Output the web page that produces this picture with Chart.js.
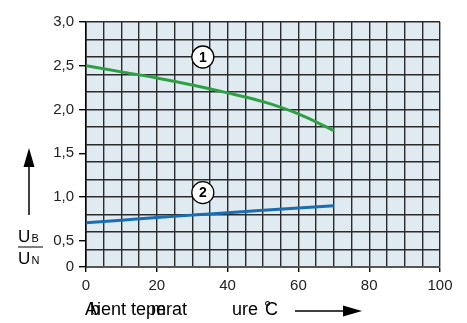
<!DOCTYPE html>
<html>
<head>
<meta charset="utf-8">
<script src="https://cdn.jsdelivr.net/npm/chart.js@4"></script>
<style>
  html, body { margin:0; padding:0; background:#fff; }
  #wrap { width:467px; height:323px; position:relative; }
</style>
</head>
<body>
<div id="wrap"><canvas id="chart" width="467" height="323"></canvas></div>
<script>
// values
const tempC  = [0, 10, 20, 30, 40, 50, 60, 70];
const curve1 = [2.50, 2.43, 2.36, 2.28, 2.19, 2.09, 1.95, 1.76];
const curve2 = [0.705, 0.735, 0.765, 0.793, 0.82, 0.848, 0.875, 0.90];

const xGridValues  = [0,5,10,15,20,25,30,35,40,45,50,55,60,65,70,75,80,85,90,95,100];
const xLabelValues = [0, 20, 40, 60, 80, 100];

// broken axis: lowest grid line (0.2) is labelled "0"
const yGridValues  = [0.2,0.4,0.6,0.8,1.0,1.2,1.4,1.6,1.8,2.0,2.2,2.4,2.6,2.8,3.0];
const yLabelValues = [0.2, 0.5, 1.0, 1.5, 2.0, 2.5, 3.0];
const yLabels      = ["0", "0,5", "1,0", "1,5", "2,0", "2,5", "3,0"];

const markerNames = ["1", "2"];
const markerX = [33, 33];
const markerY = [2.6, 1.05];

const near = (a, b) => Math.abs(a - b) < 1e-6;
const isYGrid = v => yGridValues.some(g => near(g, v));
const yLabelIdx = v => yLabelValues.findIndex(g => near(g, v));

const FONT = "'Liberation Sans', Arial, sans-serif";
const GRID = "#2b2b2b";

const decor = {
  id: "decor",
  beforeDraw(chart) {
    const { ctx, chartArea: a } = chart;
    ctx.save();
    ctx.fillStyle = "#dfeaf1";
    ctx.fillRect(a.left, a.top, a.right - a.left, a.bottom - a.top);
    ctx.restore();
  },
  afterDraw(chart) {
    const { ctx, scales: { x, y } } = chart;
    ctx.save();

    // circled curve numbers
    markerNames.forEach((n, i) => {
      const px = x.getPixelForValue(markerX[i]);
      const py = y.getPixelForValue(markerY[i]);
      ctx.beginPath();
      ctx.arc(px, py, 11, 0, Math.PI * 2);
      ctx.fillStyle = "#fff";
      ctx.fill();
      ctx.lineWidth = 1.3;
      ctx.strokeStyle = "#000";
      ctx.stroke();
      ctx.fillStyle = "#000";
      ctx.font = "bold 14px " + FONT;
      ctx.textAlign = "center";
      ctx.textBaseline = "middle";
      ctx.fillText(n, px, py + 1);
    });

    // y title: arrow + U_B / U_N
    ctx.strokeStyle = "#000";
    ctx.fillStyle = "#000";
    ctx.lineWidth = 1.5;
    ctx.beginPath();
    ctx.moveTo(29, 215); ctx.lineTo(29, 164);
    ctx.stroke();
    ctx.beginPath();
    ctx.moveTo(29, 148); ctx.lineTo(23.5, 167); ctx.lineTo(34.5, 167);
    ctx.closePath(); ctx.fill();

    ctx.textAlign = "left";
    ctx.textBaseline = "alphabetic";
    ctx.font = "17px " + FONT;
    ctx.fillText("U", 18, 242);
    ctx.fillText("U", 18, 264);
    ctx.font = "11px " + FONT;
    ctx.fillText("B", 31.5, 242);
    ctx.fillText("N", 31.5, 264);
    ctx.lineWidth = 1;
    ctx.beginPath();
    ctx.moveTo(18, 247); ctx.lineTo(43, 247);
    ctx.stroke();

    // x title (pieces overlap as in the source)
    ctx.font = "18px " + FONT;
    ctx.fillText("A", 85, 315);
    ctx.fillText("b", 90, 315);
    ctx.fillText("ient teperat", 97, 315);
    ctx.fillText("m", 151, 315);
    ctx.fillText("ure", 232, 315);
    ctx.fillText("C", 265, 315);
    ctx.fillText("°", 264, 314);

    // x arrow
    ctx.lineWidth = 1.5;
    ctx.beginPath();
    ctx.moveTo(295, 311); ctx.lineTo(345, 311);
    ctx.stroke();
    ctx.beginPath();
    ctx.moveTo(362, 311); ctx.lineTo(343, 305.5); ctx.lineTo(343, 316.5);
    ctx.closePath(); ctx.fill();

    ctx.restore();
  }
};

new Chart(document.getElementById("chart"), {
  type: "line",
  data: {
    datasets: [
      { data: tempC.map((t, i) => ({ x: t, y: curve1[i] })), borderColor: "#2ea043", borderWidth: 3,
        pointRadius: 0, cubicInterpolationMode: "monotone" },
      { data: tempC.map((t, i) => ({ x: t, y: curve2[i] })), borderColor: "#1a6db3", borderWidth: 3,
        pointRadius: 0, cubicInterpolationMode: "monotone" }
    ]
  },
  options: {
    responsive: false,
    animation: false,
    events: [],
    layout: { padding: { left: 0, right: 27, top: 22, bottom: 0 } },
    plugins: { legend: { display: false }, tooltip: { enabled: false } },
    scales: {
      x: {
        type: "linear", min: 0, max: 100,
        afterBuildTicks: s => { s.ticks = xGridValues.map(v => ({ value: v })); },
        afterFit: s => { s.height = 56; },
        border: { color: "#555", width: 2 },
        grid: {
          color: GRID, lineWidth: 1.4, tickLength: 5,
          tickColor: c => xLabelValues.includes(c.tick.value) ? "#000" : "rgba(0,0,0,0)"
        },
        ticks: {
          autoSkip: false, maxRotation: 0, padding: 5, color: "#222",
          font: { family: FONT, size: 15 },
          callback: v => xLabelValues.includes(v) ? String(v) : ""
        }
      },
      y: {
        type: "linear", min: 0.2, max: 3.0,
        afterBuildTicks: s => {
          const vals = [...new Set([...yGridValues, ...yLabelValues].map(v => +v.toFixed(2)))].sort((a, b) => a - b);
          s.ticks = vals.map(v => ({ value: v }));
        },
        afterFit: s => { s.width = 86; },
        border: { color: "#000", width: 1.5 },
        grid: {
          lineWidth: 1.4, tickLength: 7,
          color: c => isYGrid(c.tick.value) ? GRID : "rgba(0,0,0,0)",
          tickColor: c => yLabelIdx(c.tick.value) >= 0 ? "#000" : "rgba(0,0,0,0)"
        },
        ticks: {
          autoSkip: false, padding: 5, color: "#222",
          font: { family: FONT, size: 15 },
          callback: v => { const i = yLabelIdx(v); return i >= 0 ? yLabels[i] : ""; }
        }
      }
    }
  },
  plugins: [decor]
});
</script>
</body>
</html>
